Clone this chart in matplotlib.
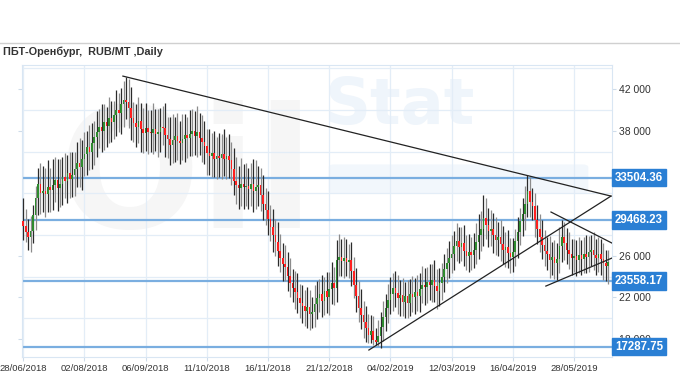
import matplotlib
matplotlib.use('Agg')
import matplotlib.pyplot as plt
import matplotlib.transforms as mtransforms
from matplotlib.patches import FancyBboxPatch
import numpy as np

# Daily closes, thousand RUB/MT
closes = [
    28.9, 28.3, 27.8, 28.4, 29.9, 31.5, 32.9, 32.0, 32.2, 31.9, 32.6, 32.3, 32.8, 33.3, 32.5, 32.9, 33.6, 33.2, 33.9, 33.4,
    33.8, 34.3, 34.9, 34.5, 35.3, 35.8, 36.4, 36.0, 36.8, 37.4, 37.9, 38.4, 38.0, 38.8, 38.5, 39.2, 38.8, 39.5, 40.0, 39.7,
    40.6, 41.0, 40.8, 40.2, 39.2, 38.7, 38.4, 38.9, 38.2, 37.8, 38.3, 37.9, 37.8, 38.2, 37.7, 37.9, 38.4, 38.3, 37.6, 37.2,
    36.6, 37.1, 37.5, 37.0, 36.8, 37.2, 37.6, 37.3, 37.7, 38.0, 37.5, 37.9, 37.3, 36.9, 36.5, 35.9, 35.6, 35.9, 35.3, 35.6,
    35.4, 35.8, 35.3, 35.6, 35.2, 34.3, 33.2, 32.8, 32.5, 32.9, 32.6, 32.7, 32.4, 32.9, 32.2, 32.6, 32.8, 31.8, 31.0, 30.4,
    29.5, 28.8, 28.0, 27.3, 26.5, 25.8, 25.2, 24.9, 24.1, 23.4, 22.9, 22.5, 21.9, 21.5, 21.2, 20.7, 21.1, 20.4, 20.6, 21.4,
    21.9, 22.3, 21.7, 22.6, 22.0, 22.8, 23.4, 22.9, 25.6, 25.9, 25.5, 25.8, 25.4, 25.6, 24.5, 23.2, 22.1, 21.0, 20.3, 19.6,
    19.1, 18.4, 18.8, 17.9, 17.7, 18.3, 19.2, 20.1, 21.0, 21.8, 22.3, 22.9, 22.4, 21.9, 22.2, 21.6, 22.1, 21.5, 22.3, 22.0,
    22.5, 22.1, 22.8, 23.2, 23.0, 23.5, 23.2, 23.7, 23.1, 22.6, 23.4, 24.0, 24.7, 25.3, 25.8, 26.2, 26.9, 27.4, 26.8, 27.2,
    26.5, 26.0, 26.4, 26.1, 26.6, 27.3, 28.0, 28.6, 29.6, 29.0, 28.4, 28.6, 28.0, 27.5, 27.8, 27.1, 26.6, 26.8, 26.3, 25.9,
    26.4, 27.4, 28.3, 29.3, 30.0, 31.0, 32.2, 31.2, 30.8, 29.4, 28.6, 27.8, 27.0, 26.5, 26.2, 25.6, 25.9, 25.3, 25.7, 26.9,
    27.8, 27.2, 26.6, 26.2, 25.8, 26.0, 25.6, 26.1, 25.7, 26.2, 25.9, 26.4, 26.6, 26.1, 25.8, 26.2, 25.7, 25.3, 25.0, 25.4,
]
first_open = 29.3

# wick length above / below the body, hundreds of RUB
wick_up = [
    22, 16, 12, 14, 10, 12, 15, 20, 24, 22, 26, 18, 25, 22, 20, 24, 19, 23, 18, 21,
    22, 17, 20, 24, 18, 21, 16, 22, 19, 15, 20, 17, 22, 18, 15, 20, 17, 14, 19, 16,
    15, 18, 22, 22, 20, 16, 19, 23, 18, 20, 24, 17, 21, 25, 19, 22, 18, 20, 24, 17,
    21, 25, 18, 22, 19, 24, 20, 17, 23, 21, 19, 25, 18, 22, 20, 17, 23, 19, 21, 18,
    22, 19, 24, 18, 21, 17, 20, 23, 18, 25, 19, 22, 17, 20, 24, 26, 18, 16, 20, 15,
    18, 14, 17, 15, 19, 16, 14, 18, 15, 17, 13, 16, 18, 14, 17, 15, 19, 16, 14, 18,
    17, 15, 19, 14, 18, 16, 20, 15, 19, 22, 17, 20, 18, 15, 17, 14, 16, 15, 18, 14,
    16, 13, 15, 14, 12, 15, 14, 16, 13, 15, 17, 14, 16, 18, 15, 17, 14, 16, 15, 18,
    14, 17, 15, 18, 16, 14, 17, 15, 19, 16, 14, 13, 15, 14, 16, 18, 15, 17, 14, 16,
    18, 15, 17, 14, 16, 18, 20, 17, 22, 19, 16, 18, 15, 17, 14, 16, 18, 15, 17, 14,
    13, 12, 14, 13, 15, 17, 16, 14, 13, 12, 15, 14, 16, 15, 13, 17, 14, 16, 15, 19,
    16, 14, 15, 17, 14, 16, 15, 17, 14, 16, 18, 15, 14, 17, 15, 16, 14, 15, 13, 12,
]
wick_down = [
    14, 10, 12, 14, 12, 14, 16, 20, 18, 22, 17, 21, 19, 16, 22, 18, 20, 17, 21, 19,
    18, 21, 17, 19, 22, 16, 20, 18, 17, 21, 19, 16, 20, 18, 21, 17, 19, 16, 20, 18,
    20, 22, 17, 19, 21, 18, 20, 16, 22, 19, 17, 21, 18, 20, 16, 22, 19, 17, 21, 18,
    19, 17, 21, 18, 20, 16, 22, 19, 17, 21, 18, 20, 16, 19, 17, 21, 18, 20, 17, 19,
    18, 20, 16, 19, 17, 15, 14, 18, 20, 17, 21, 18, 19, 16, 20, 17, 18, 15, 16, 14,
    15, 14, 16, 13, 15, 14, 16, 13, 15, 14, 13, 16, 14, 15, 17, 14, 16, 15, 13, 14,
    15, 13, 16, 14, 15, 17, 14, 16, 13, 15, 14, 16, 13, 15, 14, 13, 15, 14, 13, 15,
    14, 8, 8, 5, 3, 4, 12, 14, 13, 15, 14, 16, 13, 15, 17, 14, 16, 15, 13, 14,
    16, 14, 15, 13, 17, 15, 14, 16, 15, 17, 14, 16, 15, 13, 14, 15, 16, 14, 15, 13,
    15, 14, 16, 15, 13, 14, 16, 15, 17, 14, 16, 15, 17, 14, 15, 16, 14, 17, 15, 16,
    15, 14, 16, 13, 14, 15, 13, 15, 14, 16, 15, 14, 13, 15, 16, 17, 14, 15, 16, 14,
    15, 16, 14, 15, 16, 14, 15, 13, 15, 14, 16, 15, 14, 15, 16, 14, 15, 16, 14, 17,
]

# x tick labels (every 25 trading days)
date_ticks = [0, 25, 50, 75, 100, 125, 150, 175, 200, 225]
date_labels = ['28/06/2018', '02/08/2018', '06/09/2018', '11/10/2018', '16/11/2018',
               '21/12/2018', '04/02/2019', '12/03/2019', '16/04/2019', '28/05/2019']

# right-hand price labels (34 000 and 30 000 sit under the level boxes)
price_ticks = [42000, 38000, 26000, 22000, 18000]

# horizontal levels and trend lines (bar index, price)
levels = [33504.36, 29468.23, 23558.17, 17287.75]
trend_lines = [
    ([40.7, 240.1], [43250, 31730]),
    ([141.2, 240.1], [16950, 31730]),
    ([215.6, 240.5], [30200, 27220]),
    ([213.5, 240.5], [23090, 25780]),
]

close = np.array(closes) * 1000
opn = np.array([first_open] + closes[:-1]) * 1000
hi = np.maximum(opn, close) + np.array(wick_up) * 100
lo = np.minimum(opn, close) - np.array(wick_down) * 100
x = np.arange(len(close))

fig = plt.figure(figsize=(6.8, 3.8), dpi=100)
fig.patch.set_facecolor('white')
ax = fig.add_axes([0.0319, 0.0605, 0.868, 0.768])
ax.set_xlim(-0.65, 240.5)
ax.set_ylim(16280, 44300)

# faint watermark
ax.text(0.28, 0.60, 'Oil', transform=ax.transAxes, fontsize=120, fontweight='bold',
        color='#f6f6f6', ha='center', va='center', zorder=0)
ax.text(0.64, 0.86, 'Stat', transform=ax.transAxes, fontsize=46, fontweight='bold',
        color='#eff5fb', ha='center', va='center', zorder=0)
ax.add_patch(FancyBboxPatch((0.53, 0.57), 0.42, 0.08, boxstyle='round,pad=0.01',
                            transform=ax.transAxes, facecolor='#f2f7fc', edgecolor='none', zorder=0))

# grid
for gy in range(20000, 44001, 4000):
    ax.axhline(gy, color='#e3edf7', lw=0.9, zorder=1)
for gx in date_ticks:
    ax.axvline(gx, color='#e3edf7', lw=0.9, zorder=1)

# levels
for lv in levels:
    ax.axhline(lv, color='#7aaee0', lw=1.6, zorder=2)

# candles
wick_colors = ['#2b2b2b' if i % 2 == 0 else '#8c8c8c' for i in x]
ax.vlines(x, lo, hi, colors=wick_colors, lw=0.9, zorder=3)
body_colors = ['#2e8b2e' if c >= o else '#ff1f1f' for o, c in zip(opn, close)]
ax.bar(x, close - opn, bottom=opn, width=0.65, color=body_colors, zorder=4)

# trend lines
for tx, ty in trend_lines:
    ax.plot(tx, ty, color='#222222', lw=0.9, zorder=5)

# axes styling
for s in ax.spines.values():
    s.set_color('#d9e6f3')
ax.set_xticks(date_ticks)
ax.set_xticklabels(date_labels, fontsize=6.8, color='#333333', family='Liberation Sans')
ax.tick_params(axis='x', length=3, color='#cfdcea', pad=2)
ax.set_yticks(price_ticks)
ax.set_yticklabels([f'{v // 1000} 000' for v in price_ticks], family='Liberation Sans')
ax.tick_params(axis='y', left=True, right=True, labelleft=False, labelright=True,
               length=3, color='#cfdcea', labelsize=7.5, labelcolor='#333333', pad=2)

# level value boxes on the right
trans = mtransforms.blended_transform_factory(ax.transAxes, ax.transData)
for lv in levels:
    ax.text(1.005, lv, f'{lv:.2f}', transform=trans, ha='left', va='center',
            fontsize=8.3, fontweight='bold', color='white', family='Liberation Sans',
            zorder=10, clip_on=False,
            bbox=dict(boxstyle='square,pad=0.25', facecolor='#2a7fd4', edgecolor='#2a7fd4'))

# header
fig.add_artist(plt.Line2D([0, 1], [1 - 43 / 380, 1 - 43 / 380], color='#d0d0d0', lw=1.0))
fig.text(3 / 680, 1 - 52 / 380, 'ПБТ-Оренбург,  RUB/MT ,Daily', fontsize=7.8, fontweight='bold',
         color='#333333', family='Liberation Sans', ha='left', va='center')

plt.savefig('out.png', dpi=100)
plt.close()
